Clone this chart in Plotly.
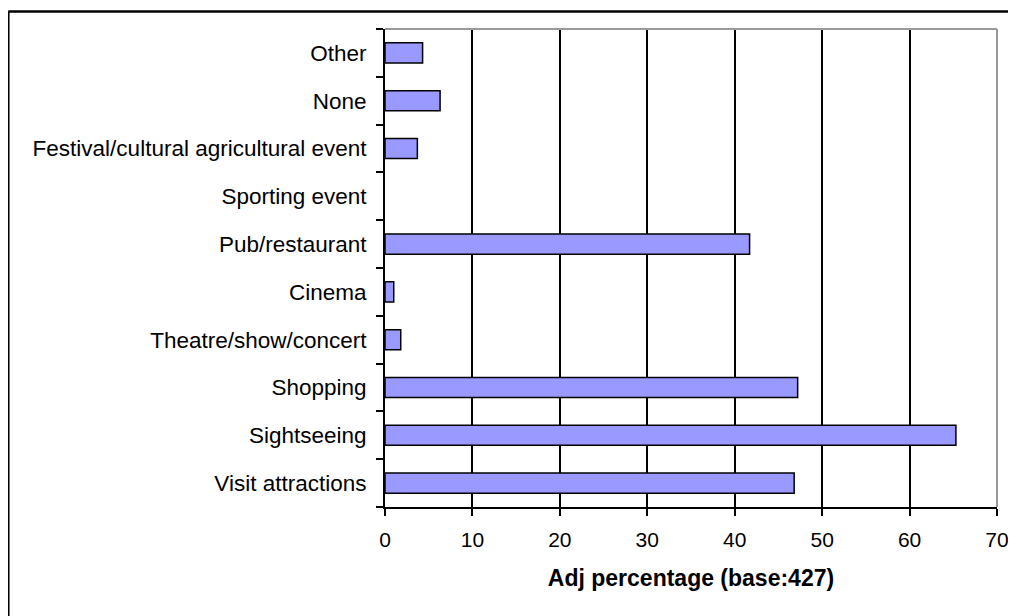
import plotly.graph_objects as go

categories = ["Visit attractions", "Sightseeing", "Shopping", "Theatre/show/concert",
              "Cinema", "Pub/restaurant", "Sporting event",
              "Festival/cultural agricultural event", "None", "Other"]
values = [46.8, 65.3, 47.2, 1.8, 1.0, 41.7, 0.0, 3.7, 6.3, 4.3]
x_ticks = [0, 10, 20, 30, 40, 50, 60, 70]
x_title = "Adj percentage (base:427)"

# the page body has an 8px margin, so the figure sits at (8, 8)
OFF = 8
W, H = 1016 - OFF, 616 - OFF
L, R, T, B = 385 - OFF, W - (997 - OFF), 28.5 - OFF, H - (507 - OFF)
pw, ph = W - L - R, H - T - B

fig = go.Figure(go.Bar(
    x=values, y=categories, orientation="h", width=0.42,
    marker=dict(color="#9999FF",
                line=dict(color="black", width=[1.5 if v > 0 else 0 for v in values])),
    hoverinfo="x+y",
))

fig.update_layout(
    width=W, height=H,
    margin=dict(l=L, r=R, t=T, b=B, pad=0, autoexpand=False),
    paper_bgcolor="white", plot_bgcolor="white",
    showlegend=False,
    font=dict(family="Liberation Sans, Arial, sans-serif", color="black", size=21),
)

fig.update_xaxes(
    range=[0, 70], tickvals=x_ticks, ticktext=[str(v) for v in x_ticks],
    showgrid=True, gridcolor="black", gridwidth=1.5,
    showline=True, linecolor="black", linewidth=2,
    ticks="outside", ticklen=7, tickwidth=2, tickcolor="black",
    tickfont=dict(size=21), zeroline=False, ticklabelstandoff=6,
    title=dict(text="<b>" + x_title + "</b>", font=dict(size=23), standoff=20),
    automargin=False, fixedrange=True,
)
fig.update_yaxes(
    type="category", categoryorder="array", categoryarray=categories,
    range=[-0.5, len(categories) - 0.5],
    showline=True, linecolor="black", linewidth=2,
    ticks="outside", ticklen=7, tickwidth=2, tickcolor="black",
    tickson="boundaries", showgrid=False,
    tickfont=dict(size=22.5), ticklabelstandoff=12,
    automargin=False, fixedrange=True,
)

# grey plot-area border (top and right)
fig.add_shape(type="line", xref="paper", yref="paper", x0=0, x1=1, y0=1, y1=1,
              line=dict(color="#999999", width=2))
fig.add_shape(type="line", xref="paper", yref="paper", x0=1, x1=1, y0=0, y1=1,
              line=dict(color="#999999", width=2))

# chart-area border (left and top visible)
bx = (8.3 - OFF - L) / pw
by = (H - B - (11 - OFF)) / ph
fig.add_shape(type="line", xref="paper", yref="paper", x0=bx, x1=bx, y0=by, y1=-B / ph - 0.05,
              line=dict(color="black", width=2.5))
fig.add_shape(type="line", xref="paper", yref="paper", x0=bx, x1=1 + R / pw + 0.05, y0=by, y1=by,
              line=dict(color="black", width=2.5))

fig.write_html("out.html", config={"displayModeBar": False})
